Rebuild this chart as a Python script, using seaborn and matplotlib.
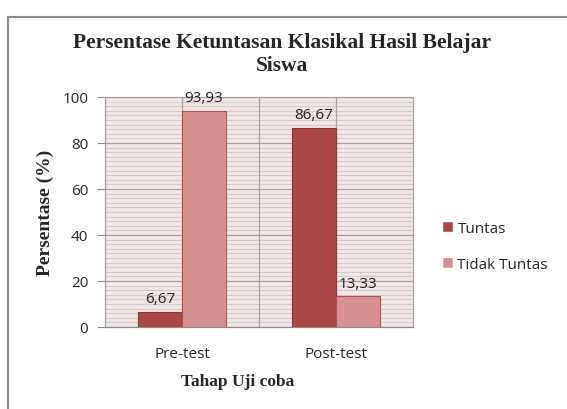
import pandas as pd
import matplotlib
matplotlib.use("Agg")
import matplotlib.pyplot as plt
from matplotlib.patches import Rectangle
from matplotlib.ticker import MultipleLocator
import seaborn as sns

# data
tahap = ["Pre-test", "Post-test"]
tuntas = [6.67, 86.67]
tidak_tuntas = [93.93, 13.33]
kategori = ["Tuntas", "Tidak Tuntas"]
warna = ["#AB4745", "#D49191"]
tepi = ["#8E3836", "#B5504E"]

df = pd.DataFrame({
    "tahap": tahap * 2,
    "persen": tuntas + tidak_tuntas,
    "kategori": [kategori[0]] * 2 + [kategori[1]] * 2,
})

sns.set_style("white")
plt.rcParams["font.family"] = ["Open Sans", "DejaVu Sans"]

fig = plt.figure(figsize=(5.67, 4.10), dpi=100)
ax = fig.add_axes([0.1852, 0.2, 0.5432, 0.561])
ax.set_facecolor("#F2E7E7")

sns.barplot(data=df, x="tahap", y="persen", hue="kategori",
            palette=warna, width=0.572, saturation=1, ax=ax, zorder=3)

# edges per series
for cont, ec in zip(ax.containers, tepi):
    for p in cont:
        p.set_edgecolor(ec)
        p.set_linewidth(0.8)

# data labels
for cont in ax.containers:
    ax.bar_label(cont, labels=[f"{v:.2f}".replace(".", ",") for v in cont.datavalues],
                 padding=4, fontsize=11, color="#222222")

ax.set_ylim(0, 100)
ax.set_xlim(-0.5, 1.5)
ax.yaxis.set_major_locator(MultipleLocator(20))
ax.yaxis.set_minor_locator(MultipleLocator(2))
ax.grid(axis="y", which="minor", color="#D3CACA", lw=0.8, zorder=1)
ax.grid(axis="y", which="major", color="#A3A3A3", lw=0.9, zorder=1)
for xv in [0, 0.5, 1]:
    ax.axvline(xv, color="#A3A3A3", lw=0.9, zorder=1)
ax.set_axisbelow(True)

for s in ax.spines.values():
    s.set_color("#A3A3A3")
    s.set_linewidth(0.9)
ax.spines["bottom"].set_color("#8C8C8C")

ax.tick_params(axis="y", which="major", left=True, length=6, color="#8C8C8C",
               labelsize=11, pad=6)
ax.tick_params(axis="y", which="minor", left=False)
ax.tick_params(axis="x", bottom=False, labelsize=11, pad=10)

ax.set_xlabel("Tahap Uji coba", family="Liberation Serif", fontweight="bold",
              fontsize=12.5, labelpad=9)
ax.xaxis.set_label_coords(0.43, -0.2)
ax.set_ylabel("Persentase (%)", family="Liberation Serif", fontweight="bold",
              fontsize=14, labelpad=6)

fig.text(0.497, 0.815, "Persentase Ketuntasan Klasikal Hasil Belajar\nSiswa",
         ha="center", va="bottom", family="Liberation Serif", fontweight="bold",
         fontsize=15.5, linespacing=1.2)

ax.legend(loc="center left", bbox_to_anchor=(1.05, 0.35), frameon=False,
          fontsize=11, handlelength=0.7, handleheight=0.7, handletextpad=0.3,
          labelspacing=1.4)

# outer chart frame
fig.add_artist(Rectangle((8 / 567, -0.1), 1.2, 1.078 - 9 / 410,
                         transform=fig.transFigure, fill=False,
                         edgecolor="#8A8A8A", lw=1.5, clip_on=False))

fig.savefig("out.png", dpi=100, facecolor="white")
